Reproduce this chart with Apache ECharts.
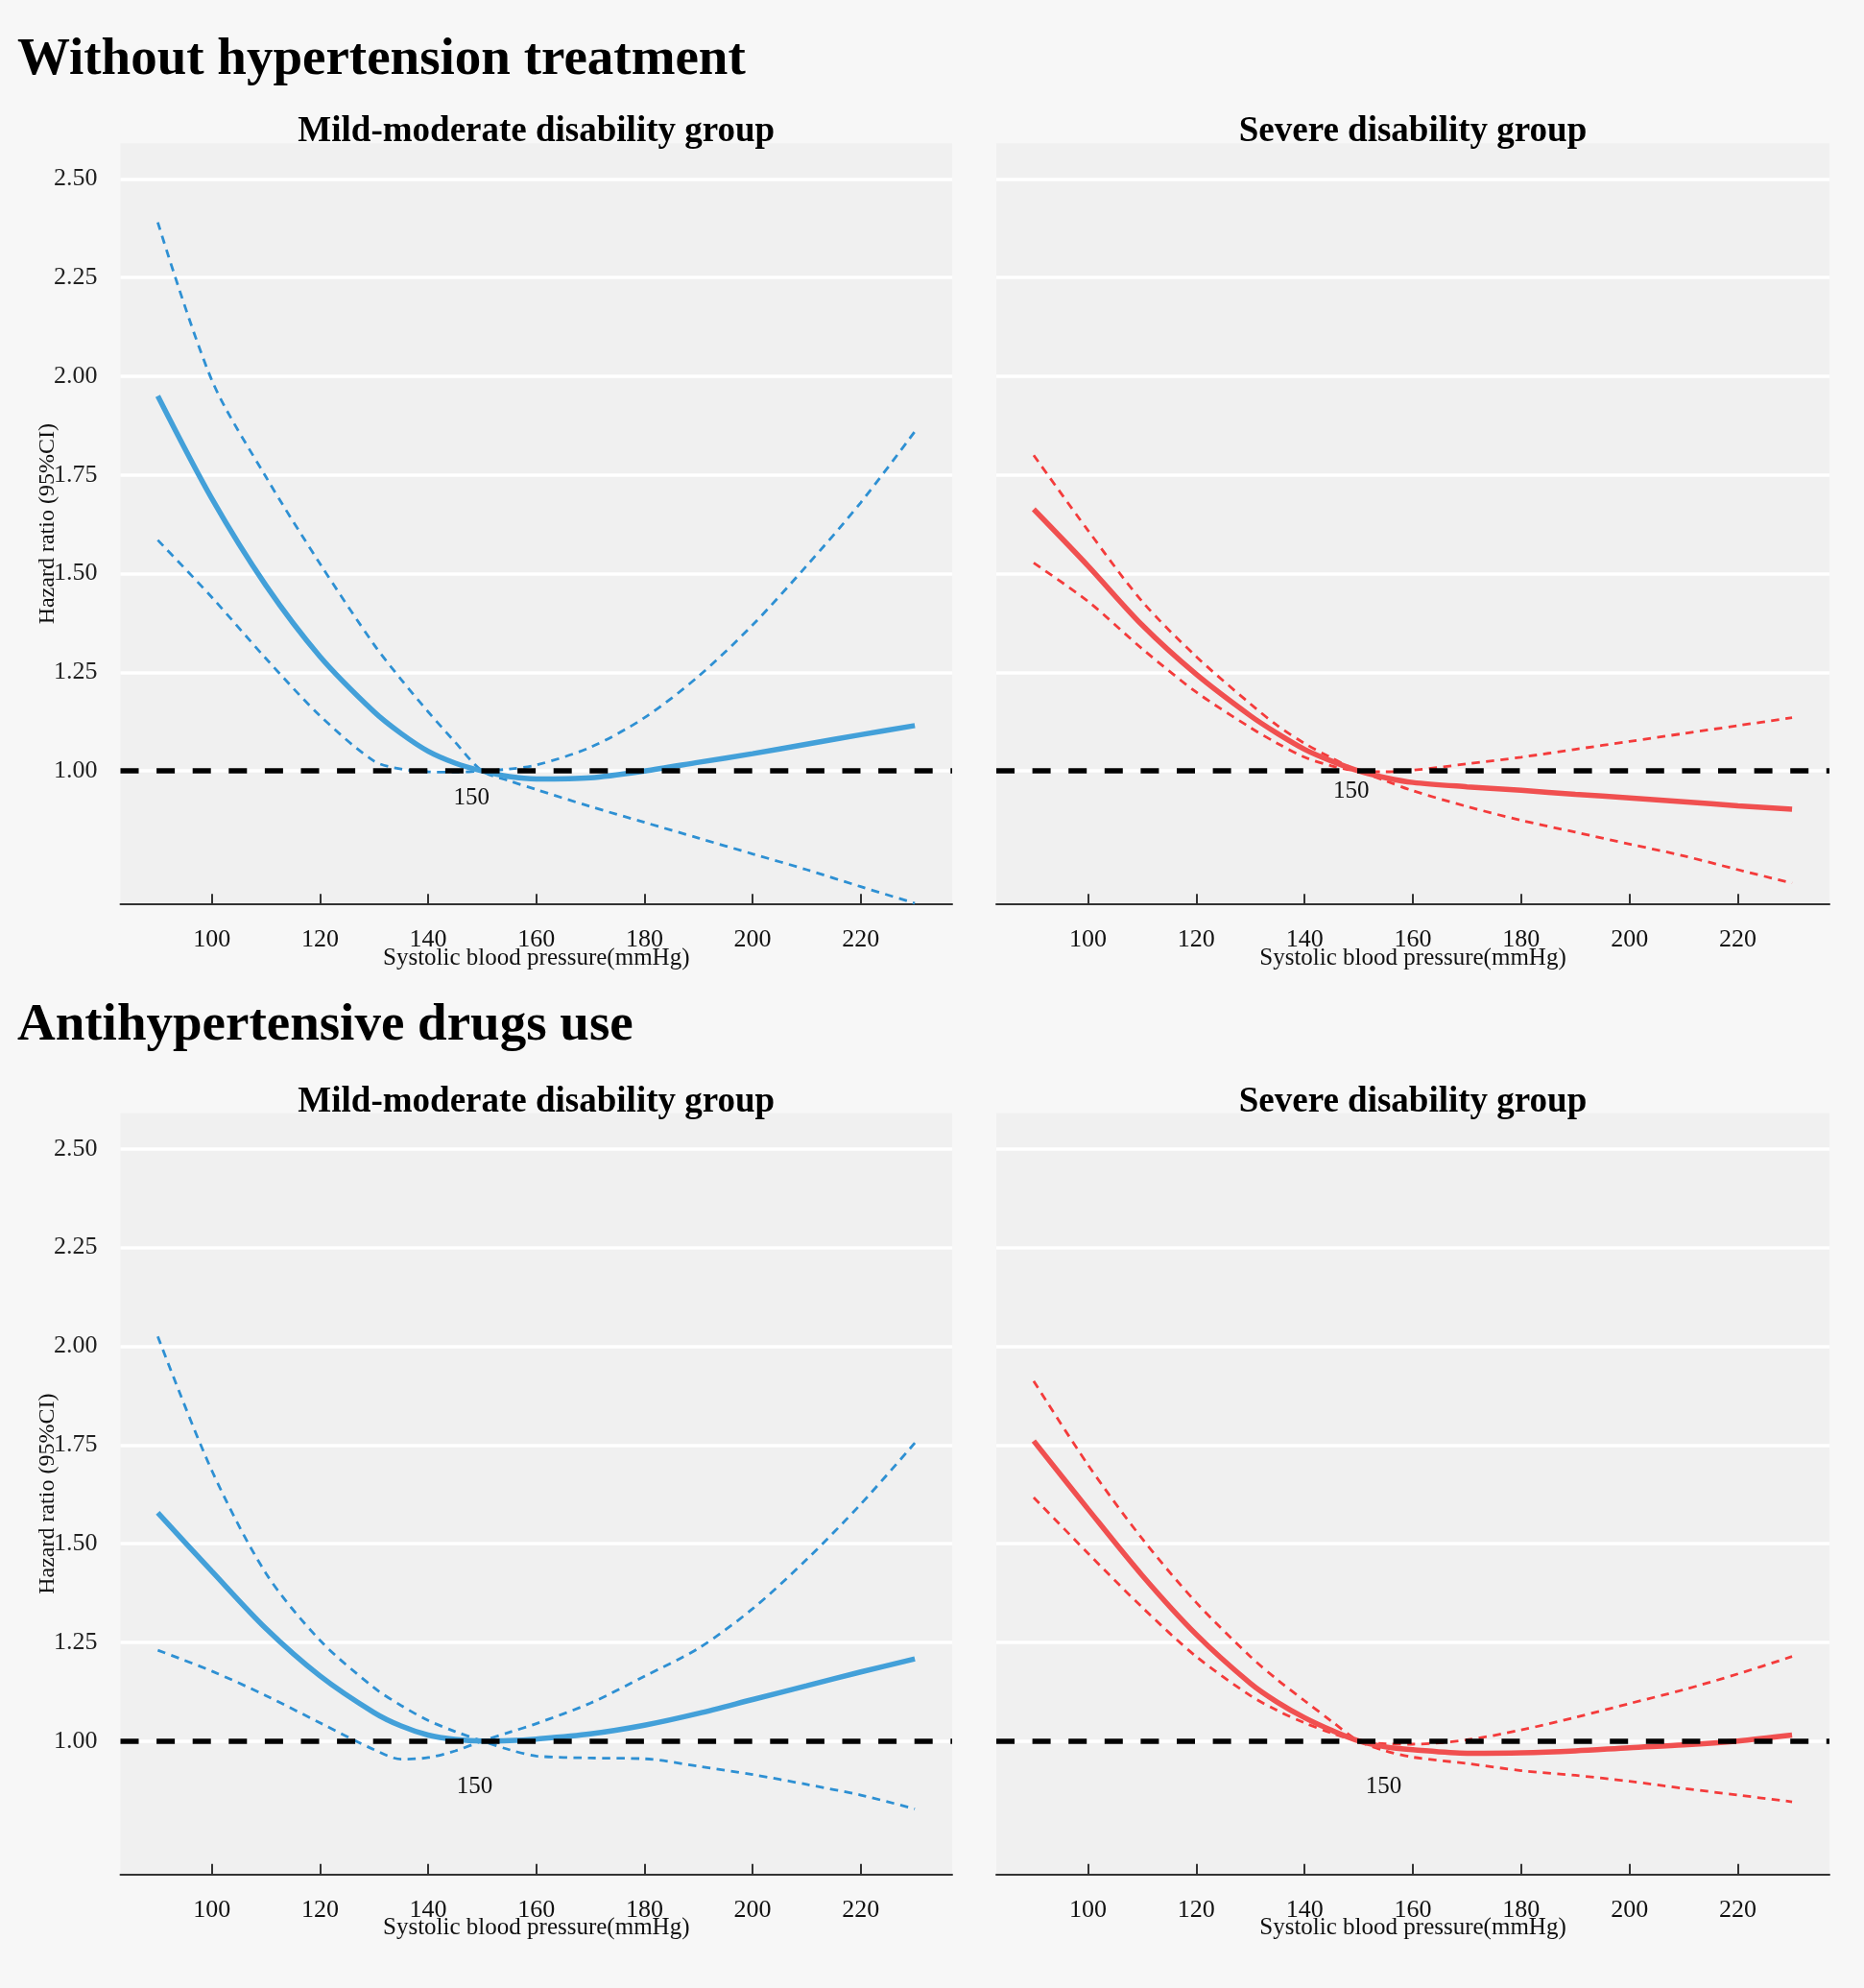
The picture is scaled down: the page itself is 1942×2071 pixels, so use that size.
<!DOCTYPE html>
<html>
<head>
<meta charset="utf-8">
<title>Hazard ratio by systolic blood pressure</title>
<script src="https://cdn.jsdelivr.net/npm/echarts@6.0.0/dist/echarts.min.js"></script>
<style>
    html, body { margin: 0; padding: 0; background: #f7f7f7; }
    #chart { width: 1942px; height: 2071px; }
</style>
</head>
<body>
<div id="chart"></div>
<script>
// x positions (systolic blood pressure, mmHg) shared by every curve
const sbp = [90, 100, 110, 120, 130, 135, 140, 145, 150, 155, 160, 170, 180, 190, 200, 210, 220, 230];
const xTicks = [100, 120, 140, 160, 180, 200, 220];
const yTicks = [1.00, 1.25, 1.50, 1.75, 2.00, 2.25, 2.50];

// hazard ratio + the two 95% CI bounds (they swap sides at the reference 150)
// without hypertension treatment - mild-moderate disability
const noTxMildHR  = [1.95, 1.69, 1.47, 1.29, 1.15, 1.095, 1.05, 1.02, 1.00, 0.986, 0.98, 0.983, 1.00, 1.022, 1.044, 1.068, 1.092, 1.115];
const noTxMildCI1 = [2.39, 1.99, 1.745, 1.525, 1.32, 1.232, 1.15, 1.073, 1.00, 0.975, 0.953, 0.91, 0.87, 0.83, 0.79, 0.75, 0.707, 0.665];
const noTxMildCI2 = [1.585, 1.44, 1.285, 1.14, 1.025, 1.005, 0.998, 0.997, 1.00, 1.005, 1.015, 1.06, 1.135, 1.24, 1.37, 1.52, 1.68, 1.86];
// without hypertension treatment - severe disability
const noTxSevHR  = [1.663, 1.52, 1.37, 1.245, 1.14, 1.095, 1.055, 1.025, 1.00, 0.983, 0.971, 0.96, 0.951, 0.941, 0.932, 0.922, 0.912, 0.903];
const noTxSevCI1 = [1.80, 1.61, 1.43, 1.29, 1.17, 1.115, 1.07, 1.033, 1.00, 0.975, 0.95, 0.91, 0.875, 0.845, 0.815, 0.785, 0.75, 0.716];
const noTxSevCI2 = [1.527, 1.43, 1.31, 1.20, 1.11, 1.07, 1.035, 1.013, 1.00, 0.998, 1.002, 1.018, 1.035, 1.055, 1.075, 1.095, 1.115, 1.135];
// antihypertensive drugs use - mild-moderate disability
const drugMildHR  = [1.578, 1.43, 1.285, 1.165, 1.072, 1.038, 1.015, 1.004, 1.00, 1.001, 1.005, 1.018, 1.04, 1.07, 1.105, 1.14, 1.175, 1.208];
const drugMildCI1 = [2.025, 1.685, 1.425, 1.255, 1.135, 1.09, 1.052, 1.024, 1.00, 0.978, 0.962, 0.957, 0.955, 0.936, 0.915, 0.89, 0.863, 0.828];
const drugMildCI2 = [1.23, 1.177, 1.115, 1.046, 0.978, 0.954, 0.958, 0.975, 1.00, 1.022, 1.044, 1.096, 1.164, 1.235, 1.335, 1.46, 1.60, 1.755];
// antihypertensive drugs use - severe disability
const drugSevHR  = [1.76, 1.588, 1.42, 1.27, 1.146, 1.098, 1.059, 1.027, 1.00, 0.985, 0.978, 0.969, 0.97, 0.975, 0.983, 0.99, 1.00, 1.015];
const drugSevCI1 = [1.912, 1.70, 1.513, 1.351, 1.214, 1.155, 1.102, 1.05, 1.00, 0.975, 0.959, 0.943, 0.925, 0.913, 0.898, 0.88, 0.863, 0.846];
const drugSevCI2 = [1.617, 1.476, 1.339, 1.214, 1.115, 1.077, 1.046, 1.02, 1.00, 0.993, 0.992, 1.003, 1.028, 1.06, 1.095, 1.13, 1.17, 1.214];

// "150" reference annotations (data coords)
const refText = "150";
const refLabelPos = [[148.0, 0.932], [148.6, 0.949], [148.6, 0.884], [154.6, 0.884]];

const FONT = "'Liberation Serif', 'Times New Roman', serif";
const BLUE = "#43a0d9", BLUE_DASH = "#2e90d3";
const RED = "#f05050", RED_DASH = "#f43b3b";
const PH = 792.9;

const panels = [
    { hr: noTxMildHR, ci1: noTxMildCI1, ci2: noTxMildCI2, c: BLUE, cd: BLUE_DASH, left: 125.5, top: 149.3, width: 866.5, yLab: true },
    { hr: noTxSevHR,  ci1: noTxSevCI1,  ci2: noTxSevCI2,  c: RED,  cd: RED_DASH,  left: 1038,  top: 149.3, width: 868,   yLab: false },
    { hr: drugMildHR, ci1: drugMildCI1, ci2: drugMildCI2, c: BLUE, cd: BLUE_DASH, left: 125.5, top: 1159.8, width: 866.5, yLab: true },
    { hr: drugSevHR,  ci1: drugSevCI1,  ci2: drugSevCI2,  c: RED,  cd: RED_DASH,  left: 1038,  top: 1159.8, width: 868,   yLab: false }
];

function pts(arr) {
    return sbp.map((x, k) => [x, arr[k]]);
}

let grids = [], xAxes = [], yAxes = [], series = [];

panels.forEach((p, i) => {
    grids.push({
        left: p.left, top: p.top, width: p.width, height: PH,
        show: true, backgroundColor: "#f0f0f0", borderWidth: 0,
        containLabel: false, outerBoundsMode: "none"
    });

    xAxes.push({
        type: "value", gridIndex: i, min: 83.1, max: 236.9,
        name: "Systolic blood pressure(mmHg)", nameLocation: "middle", nameGap: 43.5,
        nameMoveOverlap: false,
        nameTextStyle: { fontFamily: FONT, fontSize: 25, color: "#111" },
        axisLine: { show: true, onZero: false, lineStyle: { color: "#333", width: 2 } },
        axisTick: { show: true, inside: true, length: 11, customValues: xTicks, lineStyle: { color: "#333", width: 2 } },
        axisLabel: { customValues: xTicks, margin: 24, fontFamily: FONT, fontSize: 26, color: "#111" },
        splitLine: { show: false }
    });

    yAxes.push({
        type: "value", gridIndex: i, min: 0.662, max: 2.59,
        name: p.yLab ? "Hazard ratio (95%CI)" : "", nameLocation: "middle", nameGap: 64,
        nameMoveOverlap: false,
        nameTextStyle: { fontFamily: FONT, fontSize: 24, color: "#111" },
        axisLine: { show: false },
        axisTick: { show: false, customValues: yTicks },
        axisLabel: {
            show: p.yLab, customValues: yTicks, margin: 24,
            formatter: v => v.toFixed(2),
            fontFamily: FONT, fontSize: 26, color: "#222"
        },
        splitLine: { show: true, lineStyle: { color: "#ffffff", width: 3.5 } }
    });

    // reference line HR = 1
    series.push({
        type: "line", xAxisIndex: i, yAxisIndex: i, data: [], z: 1,
        markLine: {
            silent: true, symbol: ["none", "none"], animation: false,
            label: { show: false },
            lineStyle: { color: "#000", width: 5.5, type: [19, 18.6] },
            data: [{ yAxis: 1 }]
        }
    });

    [p.ci1, p.ci2].forEach(ci => {
        series.push({
            type: "line", xAxisIndex: i, yAxisIndex: i, data: pts(ci),
            smooth: 0.3, symbol: "none", z: 3,
            lineStyle: { color: p.cd, width: 2.8, type: [8.5, 6.5] }
        });
    });

    series.push({
        type: "line", xAxisIndex: i, yAxisIndex: i, data: pts(p.hr),
        smooth: 0.3, symbol: "none", z: 4,
        lineStyle: { color: p.c, width: 5.5 },
        markPoint: {
            symbol: "circle", symbolSize: 0, silent: true, animation: false,
            data: [{ coord: refLabelPos[i], value: refText }],
            label: { show: true, position: "inside", formatter: refText, fontFamily: FONT, fontSize: 25, color: "#111" }
        }
    });
});

function heading(text, x, y, size, align) {
    return {
        type: "text", x: x, y: y, silent: true,
        style: { text: text, font: "bold " + size + "px " + FONT, fill: "#000", align: align, verticalAlign: "top" }
    };
}

let chart = echarts.init(document.getElementById("chart"), null, { renderer: "canvas" });
chart.setOption({
    backgroundColor: "#f7f7f7",
    animation: false,
    grid: grids,
    xAxis: xAxes,
    yAxis: yAxes,
    series: series,
    graphic: [
        heading("Without hypertension treatment", 18, 35, 55, "left"),
        heading("Antihypertensive drugs use", 18, 1041.5, 55, "left"),
        heading("Mild-moderate disability group", 558.75, 118.5, 37, "center"),
        heading("Severe disability group", 1472, 118.5, 37, "center"),
        heading("Mild-moderate disability group", 558.75, 1129.5, 37, "center"),
        heading("Severe disability group", 1472, 1129.5, 37, "center")
    ]
});
</script>
</body>
</html>
